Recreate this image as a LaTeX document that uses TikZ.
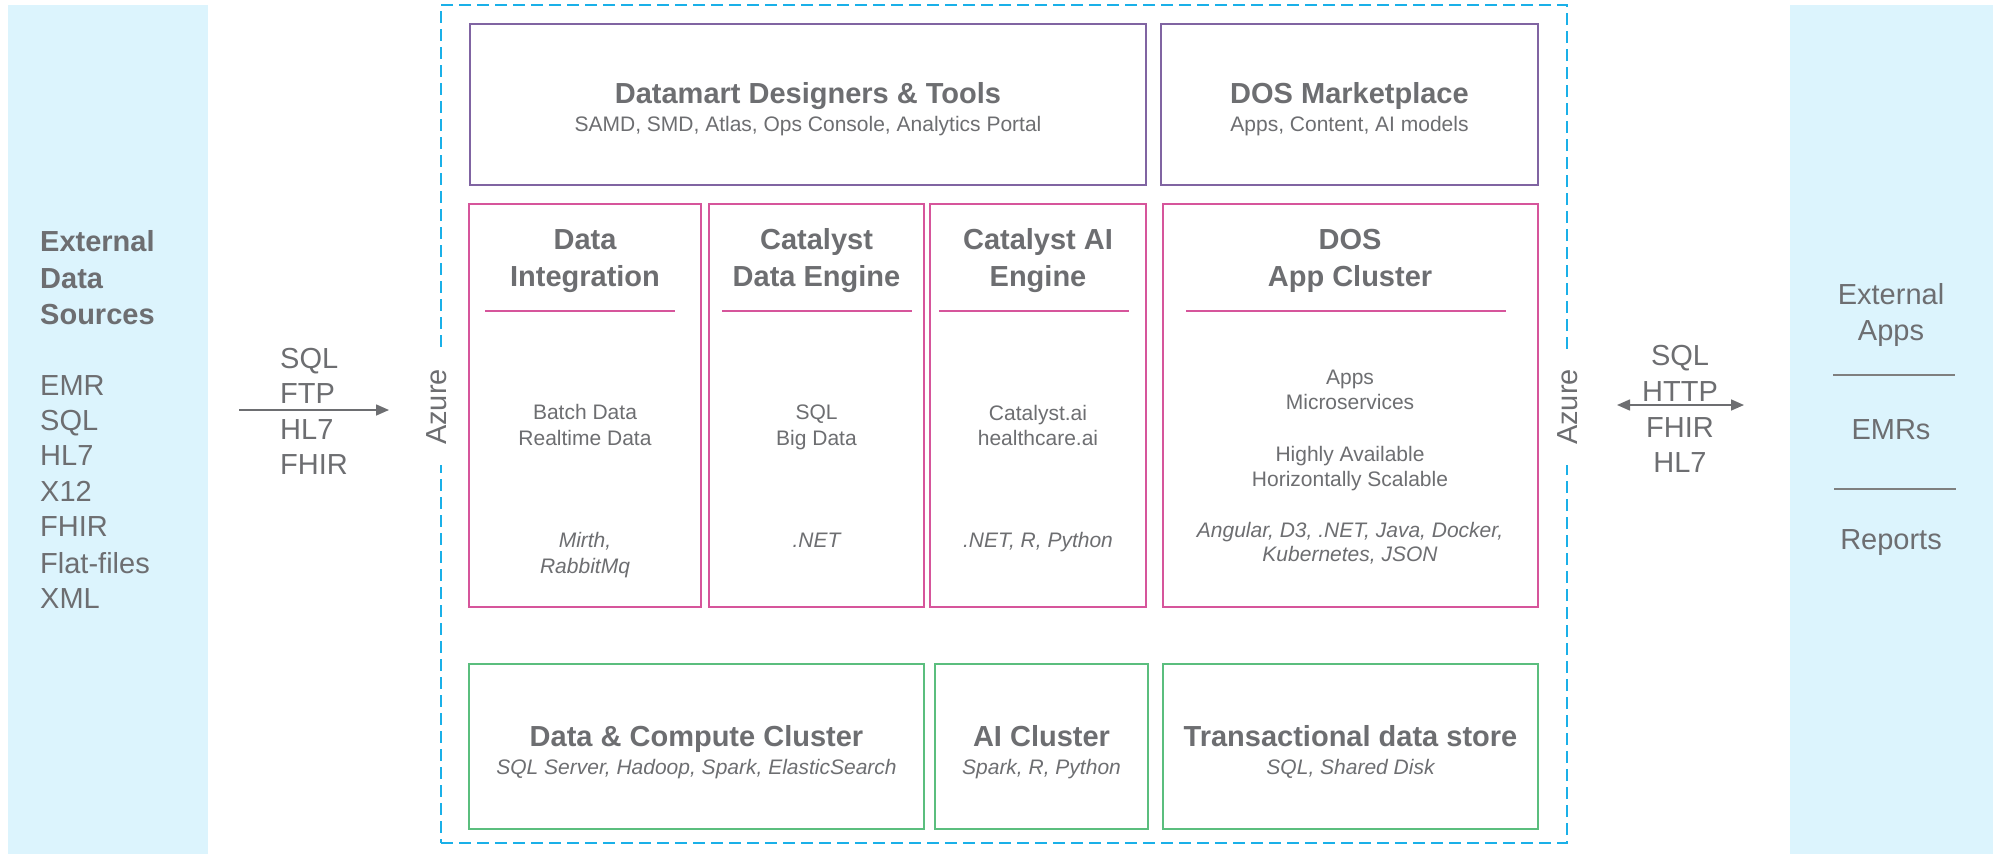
\documentclass[tikz,border=0pt]{standalone}
\usepackage{fontspec}
\setmainfont{Liberation Sans}
\usetikzlibrary{fit,arrows.meta}
\definecolor{txt}{HTML}{6D6E71}
\definecolor{panelblue}{HTML}{DCF4FD}
\definecolor{azureblue}{HTML}{1AB0E8}
\definecolor{toolpurple}{HTML}{8064A2}
\definecolor{enginepink}{HTML}{D6559B}
\definecolor{storegreen}{HTML}{5BBE7E}
\definecolor{rulegrey}{HTML}{7F7F7F}
\begin{document}
\begin{tikzpicture}[x=1pt,y=-1pt,
  panel/.style={fill=panelblue, draw=none, inner sep=0pt},
  frame/.style={draw=azureblue, line width=2.4pt, dash pattern=on 12pt off 6pt, inner sep=0pt},
  box/.style={draw, line width=2.6pt, inner sep=0pt, fill=white},
  toolbox/.style={box, draw=toolpurple},
  enginebox/.style={box, draw=enginepink},
  storebox/.style={box, draw=storegreen},
  divider/.style={draw=enginepink, line width=1.5pt},
  sep/.style={draw=rulegrey, line width=1.5pt},
  big/.style={anchor=base, inner sep=0pt, text=txt, font=\fontsize{29}{35}\selectfont, yshift=-10pt},
  bigb/.style={big, font=\fontsize{29}{35}\selectfont\bfseries},
  small/.style={anchor=base, inner sep=0pt, text=txt, font=\fontsize{21}{26}\selectfont, yshift=-7pt},
  smalli/.style={small, font=\fontsize{21}{26}\selectfont\itshape},
  azlbl/.style={rotate=90, fill=white, inner xsep=20pt, inner ysep=2pt, text=txt, font=\fontsize{29}{35}\selectfont},
  flow/.style={draw=txt, line width=1.6pt},
]
\useasboundingbox (0,0) rectangle (2001,854);

% side panels
\node[panel, fit={(8,5) (208,854)}] (srcpanel) {};
\node[panel, fit={(1790,5) (1993,854)}] (extpanel) {};

% Azure boundary
\node[frame, fit={(441,5) (1567,843)}] (azure) {};
\node[azlbl] (azL) at (437,407) {Azure};
\node[azlbl] (azR) at (1568,407) {Azure};

% external data sources
\node[bigb, anchor=base west] (src1) at (40,241) {External};
\node[bigb, anchor=base west] (src2) at (40,278) {Data};
\node[bigb, anchor=base west] (src3) at (40,314) {Sources};
\node[big, anchor=base west] (src4) at (40,385) {EMR};
\node[big, anchor=base west] (src5) at (40,420) {SQL};
\node[big, anchor=base west] (src6) at (40,455) {HL7};
\node[big, anchor=base west] (src7) at (40,491) {X12};
\node[big, anchor=base west] (src8) at (40,526) {FHIR};
\node[big, anchor=base west] (src9) at (40,563) {Flat-files};
\node[big, anchor=base west] (src10) at (40,598) {XML};

% inbound protocols
\node[big, anchor=base west] (in1) at (280,358) {SQL};
\node[big, anchor=base west] (in2) at (280,393) {FTP};
\node[big, anchor=base west] (in3) at (280,429) {HL7};
\node[big, anchor=base west] (in4) at (280,464) {FHIR};
\coordinate (inA) at (239,410);
\coordinate (inB) at (389,410);
\draw[flow, -{Triangle[length=13pt,width=11pt]}] (inA) -- (inB);

% outbound protocols
\node[big] (out1) at (1680,355) {SQL};
\node[big] (out2) at (1680,391) {HTTP};
\node[big] (out3) at (1680,427) {FHIR};
\node[big] (out4) at (1680,462) {HL7};
\coordinate (outA) at (1617,405);
\coordinate (outB) at (1744,405);
\draw[flow, {Triangle[length=13pt,width=11pt]}-{Triangle[length=13pt,width=11pt]}] (outA) -- (outB);

% external consumers
\node[big] (ext1) at (1891,294) {External};
\node[big] (ext2) at (1891,330) {Apps};
\coordinate (s1a) at (1833,375);
\coordinate (s1b) at (1955,375);
\draw[sep] (s1a) -- (s1b);
\node[big] (ext3) at (1891,429) {EMRs};
\coordinate (s2a) at (1834,489);
\coordinate (s2b) at (1956,489);
\draw[sep] (s2a) -- (s2b);
\node[big] (ext4) at (1891,539) {Reports};

% tooling row
\node[toolbox, fit={(470,24) (1146,185)}] (dmt) {};
\node[bigb] (dmt-t) at (808,93) {Datamart Designers \& Tools};
\node[small] (dmt-s) at (808,124) {SAMD, SMD, Atlas, Ops Console, Analytics Portal};
\node[toolbox, fit={(1161,24) (1538,185)}] (mkt) {};
\node[bigb] (mkt-t) at (1349.5,93) {DOS Marketplace};
\node[small] (mkt-s) at (1349.5,124) {Apps, Content, AI models};

% engine row
\node[enginebox, fit={(469,204) (701,607)}] (di) {};
\node[bigb] (di-t1) at (585,239) {Data};
\node[bigb] (di-t2) at (585,276) {Integration};
\draw[divider] (485,311) coordinate (di-l) -- (675,311) coordinate (di-r);
\node[small] (di-b1) at (585,412) {Batch Data};
\node[small] (di-b2) at (585,438) {Realtime Data};
\node[smalli] (di-i1) at (585,540) {Mirth,};
\node[smalli] (di-i2) at (585,566) {RabbitMq};

\node[enginebox, fit={(709,204) (924,607)}] (cde) {};
\node[bigb] (cde-t1) at (816.5,239) {Catalyst};
\node[bigb] (cde-t2) at (816.5,276) {Data Engine};
\draw[divider] (722,311) coordinate (cde-l) -- (912,311) coordinate (cde-r);
\node[small] (cde-b1) at (816.5,412) {SQL};
\node[small] (cde-b2) at (816.5,438) {Big Data};
\node[smalli] (cde-i1) at (816.5,540) {.NET};

\node[enginebox, fit={(930,204) (1146,607)}] (cai) {};
\node[bigb] (cai-t1) at (1038,239) {Catalyst AI};
\node[bigb] (cai-t2) at (1038,276) {Engine};
\draw[divider] (939,311) coordinate (cai-l) -- (1129,311) coordinate (cai-r);
\node[small] (cai-b1) at (1038,413) {Catalyst.ai};
\node[small] (cai-b2) at (1038,438) {healthcare.ai};
\node[smalli] (cai-i1) at (1038,540) {.NET, R, Python};

\node[enginebox, fit={(1163,204) (1538,607)}] (dac) {};
\node[bigb] (dac-t1) at (1350,239) {DOS};
\node[bigb] (dac-t2) at (1350,276) {App Cluster};
\draw[divider] (1186,311) coordinate (dac-l) -- (1506,311) coordinate (dac-r);
\node[small] (dac-b1) at (1350,377) {Apps};
\node[small] (dac-b2) at (1350,402) {Microservices};
\node[small] (dac-b3) at (1350,454) {Highly Available};
\node[small] (dac-b4) at (1350,479) {Horizontally Scalable};
\node[smalli] (dac-i1) at (1350,530) {Angular, D3, .NET, Java, Docker,};
\node[smalli] (dac-i2) at (1350,554) {Kubernetes, JSON};

% storage row
\node[storebox, fit={(469,664) (924,829)}] (dcc) {};
\node[bigb] (dcc-t) at (696.5,736) {Data \& Compute Cluster};
\node[smalli] (dcc-s) at (696.5,767) {SQL Server, Hadoop, Spark, ElasticSearch};
\node[storebox, fit={(935,664) (1148,829)}] (aic) {};
\node[bigb] (aic-t) at (1041.5,736) {AI Cluster};
\node[smalli] (aic-s) at (1041.5,767) {Spark, R, Python};
\node[storebox, fit={(1163,664) (1538,829)}] (tds) {};
\node[bigb] (tds-t) at (1350.5,736) {Transactional data store};
\node[smalli] (tds-s) at (1350.5,767) {SQL, Shared Disk};
\end{tikzpicture}
\end{document}
